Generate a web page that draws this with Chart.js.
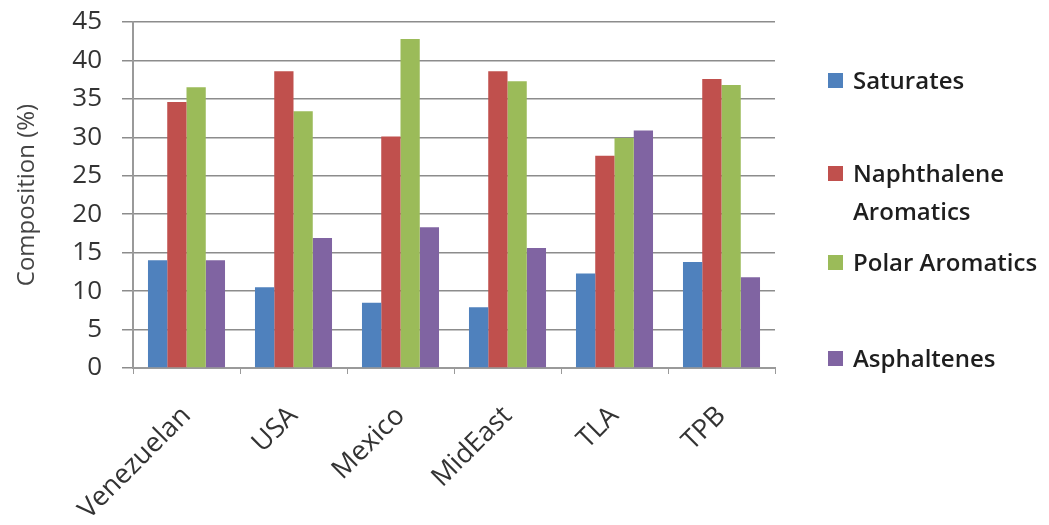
<!DOCTYPE html>
<html>
<head>
<meta charset="utf-8">
<script src="https://cdn.jsdelivr.net/npm/chart.js@4/dist/chart.umd.min.js"></script>
<style>
  html, body { margin: 0; padding: 0; background: #fff; }
  #wrap { position: relative; width: 1049px; height: 525px; }
  #legend {
    position: absolute; left: 828px; top: 0;
    font-family: "Open Sans", sans-serif; font-size: 24px; font-weight: 600;
    color: #1e1e1e; list-style: none; margin: 0; padding: 0;
  }
  #legend li { position: absolute; left: 0; display: flex; align-items: flex-start; white-space: nowrap; line-height: 38px; }
  #legend .box { width: 15px; height: 15px; margin: 12px 10px 0 0; flex: none; }
</style>
</head>
<body>
<div id="wrap">
  <canvas id="compChart" width="1049" height="525"></canvas>
  <ul id="legend"></ul>
</div>
<script>
const crudes = ["Venezuelan", "USA", "Mexico", "MidEast", "TLA", "TPB"];
const saturates = [14.0, 10.5, 8.5, 7.9, 12.3, 13.8];
const naphthaleneAromatics = [34.6, 38.6, 30.1, 38.6, 27.6, 37.6];
const polarAromatics = [36.5, 33.4, 42.8, 37.3, 29.9, 36.8];
const asphaltenes = [14.0, 16.9, 18.3, 15.6, 30.9, 11.8];

// legend text, with the line break used for the long entry
const legendNames = ["Saturates", "Naphthalene\nAromatics", "Polar Aromatics", "Asphaltenes"];
const legendTops = [61, 154, 243, 339];

const axisGray = "#9a9a9a";
const tickFont = { family: "'Open Sans', sans-serif", size: 26 };
const xTickFont = { family: "'Open Sans', sans-serif", size: 27 };

const ctx = document.getElementById("compChart").getContext("2d");

const compChart = new Chart(ctx, {
    type: "bar",
    data: {
        labels: crudes,
        datasets: [
            { label: "Saturates", data: saturates, backgroundColor: "#4f81bd" },
            { label: "Naphthalene Aromatics", data: naphthaleneAromatics, backgroundColor: "#c0504d" },
            { label: "Polar Aromatics", data: polarAromatics, backgroundColor: "#9bbb59" },
            { label: "Asphaltenes", data: asphaltenes, backgroundColor: "#8064a2" }
        ]
    },
    options: {
        responsive: false,
        animation: false,
        datasets: {
            bar: { categoryPercentage: 0.72, barPercentage: 1.0 }
        },
        layout: { padding: { top: 22, right: 274, bottom: 0, left: 0 } },
        plugins: {
            legend: { display: false },
            tooltip: { enabled: false }
        },
        scales: {
            x: {
                grid: {
                    offset: true,
                    drawOnChartArea: false,
                    tickLength: 6,
                    color: axisGray
                },
                border: { color: axisGray, width: 2 },
                ticks: {
                    minRotation: 45,
                    maxRotation: 45,
                    padding: 26,
                    color: "#333",
                    font: xTickFont
                },
                afterFit: scale => { scale.height = 157; }
            },
            y: {
                min: 0,
                max: 45,
                ticks: {
                    stepSize: 5,
                    padding: 20,
                    color: "#333",
                    font: tickFont
                },
                grid: { color: "#8c8c8c", lineWidth: 1.5, tickLength: 11 },
                border: { color: axisGray, width: 2 },
                title: {
                    display: true,
                    text: "Composition (%)",
                    color: "#444",
                    padding: { top: 13, bottom: 0 },
                    font: { family: "'Open Sans', sans-serif", size: 24 }
                },
                afterFit: scale => {
                    scale.width = 133;
                    scale.paddingTop = 0;
                    scale.paddingBottom = 0;
                }
            }
        }
    }
});

// build the side legend from the chart's datasets
const legendEl = document.getElementById("legend");
compChart.data.datasets.forEach((ds, i) => {
    const li = document.createElement("li");
    li.style.top = legendTops[i] + "px";
    const box = document.createElement("span");
    box.className = "box";
    box.style.background = ds.backgroundColor;
    const txt = document.createElement("span");
    txt.innerHTML = legendNames[i].replace("\n", "<br>");
    li.appendChild(box);
    li.appendChild(txt);
    legendEl.appendChild(li);
});
</script>
</body>
</html>
